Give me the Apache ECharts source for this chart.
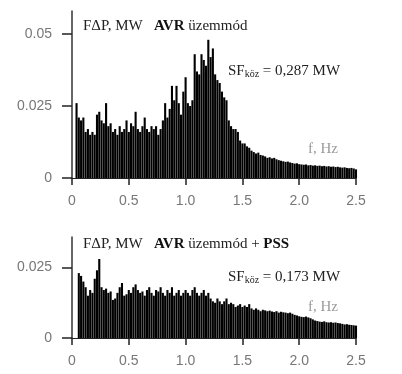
<!DOCTYPE html>
<html>
<head>
<meta charset="utf-8">
<script src="https://cdn.jsdelivr.net/npm/echarts@6/dist/echarts.min.js"></script>
<style>
html,body{margin:0;padding:0;background:#fff;}
#c{width:402px;height:374px;}
</style>
</head>
<body>
<div id="c"></div>
<script>
// frequency grid, Hz
const freq = [0.04,0.06,0.08,0.10,0.12,0.14,0.16,0.18,0.20,0.22,0.24,0.26,0.28,0.30,0.32,0.34,0.36,0.38,0.40,0.42,0.44,0.46,0.48,0.50,
0.52,0.54,0.56,0.58,0.60,0.62,0.64,0.66,0.68,0.70,0.72,0.74,0.76,0.78,0.80,0.82,0.84,0.86,0.88,0.90,0.92,0.94,0.96,0.98,1.00,
1.02,1.04,1.06,1.08,1.10,1.12,1.14,1.16,1.18,1.20,1.22,1.24,1.26,1.28,1.30,1.32,1.34,1.36,1.38,1.40,1.42,1.44,1.46,1.48,1.50,
1.52,1.54,1.56,1.58,1.60,1.62,1.64,1.66,1.68,1.70,1.72,1.74,1.76,1.78,1.80,1.82,1.84,1.86,1.88,1.90,1.92,1.94,1.96,1.98,2.00,
2.02,2.04,2.06,2.08,2.10,2.12,2.14,2.16,2.18,2.20,2.22,2.24,2.26,2.28,2.30,2.32,2.34,2.36,2.38,2.40,2.42,2.44,2.46,2.48,2.50];

// FΔP, MW — AVR üzemmód
const avr = [0.026,0.021,0.020,0.021,0.016,0.017,0.015,0.016,0.015,0.022,0.023,0.020,0.019,0.026,0.018,0.019,0.016,0.017,0.015,0.018,0.016,0.017,0.020,0.016,
0.019,0.018,0.023,0.017,0.016,0.018,0.021,0.017,0.016,0.018,0.017,0.018,0.015,0.017,0.020,0.026,0.021,0.024,0.032,0.027,0.032,0.026,0.022,0.030,0.035,
0.026,0.025,0.027,0.043,0.037,0.036,0.043,0.041,0.039,0.048,0.042,0.045,0.036,0.034,0.033,0.030,0.028,0.027,0.020,0.018,0.017,0.017,0.016,0.013,0.012,
0.012,0.011,0.0105,0.0095,0.009,0.0085,0.0088,0.008,0.0078,0.0075,0.007,0.0072,0.0068,0.007,0.0065,0.0062,0.006,0.0058,0.0056,0.0057,0.0054,0.0052,0.005,0.0051,0.0048,
0.0047,0.0046,0.0047,0.0044,0.0045,0.0043,0.0044,0.0042,0.0043,0.0041,0.0042,0.004,0.0041,0.0039,0.004,0.0038,0.0039,0.0037,0.0036,0.0037,0.0035,0.0034,0.0035,0.0033,0.003];

// FΔP, MW — AVR üzemmód + PSS
const pss = [null,0.023,0.022,0.020,0.018,0.015,0.017,0.016,0.021,0.024,0.028,0.018,0.017,0.0175,0.016,0.0165,0.0135,0.014,0.016,0.018,0.0195,0.015,0.0155,0.017,
0.016,0.018,0.019,0.017,0.016,0.0165,0.015,0.017,0.018,0.016,0.015,0.017,0.0165,0.018,0.016,0.015,0.017,0.016,0.018,0.015,0.016,0.017,0.015,0.016,0.017,
0.016,0.015,0.017,0.018,0.016,0.015,0.016,0.017,0.015,0.016,0.014,0.013,0.0125,0.014,0.013,0.012,0.013,0.014,0.012,0.0125,0.012,0.011,0.0115,0.012,0.011,
0.0115,0.011,0.012,0.0105,0.010,0.0105,0.010,0.0095,0.010,0.0098,0.0095,0.0097,0.0094,0.0092,0.0095,0.009,0.0093,0.0091,0.009,0.0088,0.009,0.0086,0.0082,0.008,0.0077,
0.0075,0.0074,0.0076,0.0073,0.007,0.0066,0.0062,0.006,0.0058,0.0057,0.0059,0.0056,0.0055,0.0056,0.0054,0.0055,0.0053,0.0052,0.005,0.0048,0.0049,0.0047,0.0046,0.0045,0.0044];

const xTicks = [0, 0.5, 1.0, 1.5, 2.0, 2.5];
const yTicksTop = [0, 0.025, 0.05];
const yTicksBottom = [0, 0.025];

const labelFont = {fontFamily:'Liberation Sans', fontSize:14, color:'#777'};
const serif = 'Liberation Serif';

function xAxis(gi){
  return {
    type:'value', gridIndex:gi, min:0, max:2.5, interval:0.5,
    axisLine:{show:true, lineStyle:{color:'#222', width:1}},
    axisTick:{show:true, length:7, lineStyle:{color:'#222', width:1.5}, customValues:xTicks},
    axisLabel:Object.assign({margin:16, customValues:xTicks,
      formatter:v=> v===0 ? '0' : v.toFixed(1)}, labelFont),
    splitLine:{show:false}
  };
}
function yAxis(gi, max, ticks){
  return {
    type:'value', gridIndex:gi, min:0, max:max, interval:0.025,
    axisLine:{show:true, lineStyle:{color:'#333', width:1.5}},
    axisTick:{show:true, length:10, lineStyle:{color:'#222', width:1.5}, customValues:ticks},
    axisLabel:Object.assign({margin:20, customValues:ticks,
      formatter:v=> v===0 ? '0' : String(+v.toFixed(3))}, labelFont),
    splitLine:{show:false}
  };
}

const chart = echarts.init(document.getElementById('c'), null, {renderer:'canvas'});
chart.setOption({
  animation:false,
  backgroundColor:'#fff',
  grid:[
    {left:72, right:46, top:11, height:167},
    {left:72, right:46, top:237, height:101}
  ],
  xAxis:[xAxis(0), xAxis(1)],
  yAxis:[yAxis(0, 0.058, yTicksTop), yAxis(1, 0.0358, yTicksBottom)],
  series:[
    {type:'bar', xAxisIndex:0, yAxisIndex:0, barWidth:2.1, itemStyle:{color:'#000'},
     data:freq.map((f,i)=>[f, avr[i]])},
    {type:'bar', xAxisIndex:1, yAxisIndex:1, barWidth:2.1, itemStyle:{color:'#000'},
     data:freq.map((f,i)=>[f, pss[i]])}
  ],
  graphic:[
    {type:'text', left:83, top:19, style:{
      text:'FΔP, MW   {b|AVR} üzemmód', font:'15px '+serif, fill:'#222',
      rich:{b:{fontFamily:serif, fontSize:15, fontWeight:'bold', fill:'#111'}}}},
    {type:'text', left:228, top:64, style:{
      text:'{a|SF}{s|köz}{a| = 0,287 MW}', fill:'#222',
      rich:{a:{fontFamily:serif, fontSize:15, fill:'#222', verticalAlign:'bottom'},
            s:{fontFamily:serif, fontSize:10, fill:'#222', verticalAlign:'bottom'}}}},
    {type:'text', left:308, top:142, style:{text:'f, Hz', font:'15px '+serif, fill:'#9a9a9a'}},

    {type:'text', left:83, top:237, style:{
      text:'FΔP, MW   {b|AVR} üzemmód + {b|PSS}', font:'15px '+serif, fill:'#222',
      rich:{b:{fontFamily:serif, fontSize:15, fontWeight:'bold', fill:'#111'}}}},
    {type:'text', left:228, top:270, style:{
      text:'{a|SF}{s|köz}{a| = 0,173 MW}', fill:'#222',
      rich:{a:{fontFamily:serif, fontSize:15, fill:'#222', verticalAlign:'bottom'},
            s:{fontFamily:serif, fontSize:10, fill:'#222', verticalAlign:'bottom'}}}},
    {type:'text', left:308, top:300, style:{text:'f, Hz', font:'15px '+serif, fill:'#9a9a9a'}}
  ]
});
</script>
</body>
</html>
